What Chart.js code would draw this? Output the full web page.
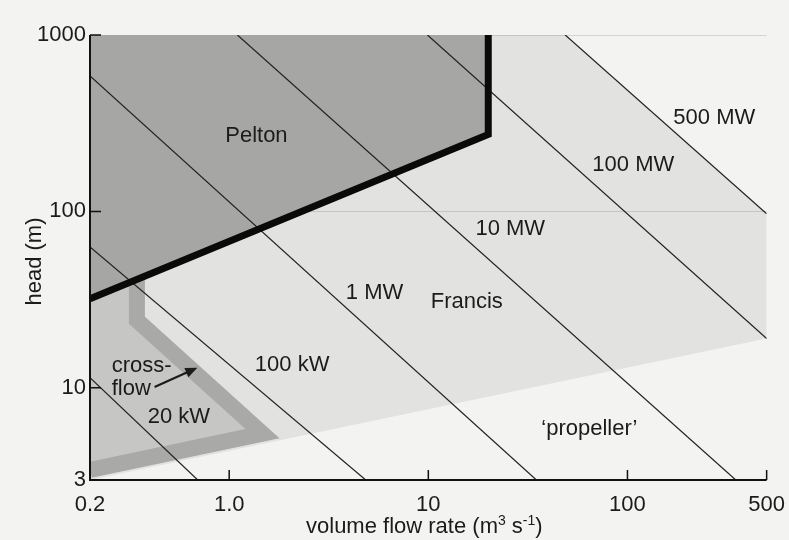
<!DOCTYPE html>
<html>
<head>
<meta charset="utf-8">
<title>Turbine ranges</title>
<script src="https://cdn.jsdelivr.net/npm/chart.js@4.4.1/dist/chart.umd.min.js"></script>
<style>
    html, body { margin: 0; padding: 0; background: #f3f3f1; }
    #wrap { position: relative; width: 789px; height: 540px; }
</style>
</head>
<body>
<div id="wrap"><canvas id="turbineChart"></canvas></div>
<script>
// axis ticks
const xTickValues = [0.2, 1, 10, 100, 500];
const xTickLabels = ['0.2', '1.0', '10', '100', '500'];
const yTickValues = [3, 10, 100, 1000];
const yTickLabels = ['3', '10', '100', '1000'];

// turbine regions: flow rate Q (m3/s) and head H (m) of the corners
const francisQ = [0.2, 500, 500, 48.7, 20, 20, 0.2];
const francisH = [3, 19, 97, 1000, 1000, 273, 32];
const peltonQ = [0.2, 20, 20, 0.2];
const peltonH = [32, 273, 1000, 1000];
const crossflowQ = [0.2, 0.344, 0.344, 1.47, 0.2];
const crossflowH = [32, 42, 24.2, 5.5, 3.42];
// outline band of the cross-flow area
const crossBandQ = [0.344, 0.344, 1.47, 0.2];
const crossBandH = [42, 24.2, 5.5, 3.42];
// Pelton / Francis boundary
const peltonEdgeQ = [0.2, 20, 20];
const peltonEdgeH = [32, 273, 1000];

// constant power lines (end points)
const powerNames = ['20 kW', '100 kW', '1 MW', '10 MW', '100 MW', '500 MW'];
const powerLineQ = [[0.2, 0.695], [0.2, 4.85], [0.2, 34.9], [1.1, 350], [9.9, 500], [48.7, 500]];
const powerLineH = [[11.4, 3], [62.8, 3], [586, 3], [1000, 3], [1000, 19], [1000, 97]];
// where each power label sits
const powerLabelQ = [0.559, 2.07, 5.37, 25.8, 107, 273];
const powerLabelH = [6.86, 13.5, 34.5, 79.4, 183, 337];

// region names
const regionNames = ['Pelton', 'Francis', '\u2018propeller\u2019'];
const regionLabelQ = [1.37, 15.6, 64.4];
const regionLabelH = [269, 30.8, 5.84];

const FONT = '"Liberation Sans", Arial, Helvetica, sans-serif';
const INK = '#1b1b1b';

function pts(qs, hs) {
    return qs.map((q, i) => ({ x: q, y: hs[i] }));
}

function area(qs, hs, color, order) {
    return {
        data: pts(qs, hs),
        showLine: true,
        fill: 'shape',
        backgroundColor: color,
        borderWidth: 0,
        pointRadius: 0,
        order: order,
        clip: 0
    };
}

function stroke(qs, hs, color, width, order) {
    return {
        data: pts(qs, hs),
        showLine: true,
        fill: false,
        borderColor: color,
        borderWidth: width,
        borderJoinStyle: 'miter',
        borderCapStyle: 'butt',
        pointRadius: 0,
        order: order,
        clip: 0
    };
}

const datasets = [
    stroke(peltonEdgeQ, peltonEdgeH, '#0a0a0a', 7, 0),
    ...powerLineQ.map((q, i) => stroke(q, powerLineH[i], '#222', 1.2, 1)),
    stroke(crossBandQ, crossBandH, '#a9a9a7', 16, 3),
    area(crossflowQ, crossflowH, '#c6c6c4', 4),
    area(peltonQ, peltonH, '#a6a6a4', 5),
    area(francisQ, francisH, 'rgba(0, 0, 0, 0.065)', 6)
];

// axes, inward ticks, labels and the arrow
const overlay = {
    id: 'overlay',
    afterDatasetsDraw(chart) {
        const { ctx, chartArea: a, scales: { x, y } } = chart;
        ctx.save();

        ctx.strokeStyle = '#111';
        ctx.lineWidth = 2;
        ctx.beginPath();
        ctx.moveTo(a.left, a.top);
        ctx.lineTo(a.left, a.bottom);
        ctx.lineTo(a.right, a.bottom);
        ctx.stroke();

        ctx.lineWidth = 1.5;
        ctx.beginPath();
        yTickValues.forEach(v => {
            if (v === y.min) return;
            const p = y.getPixelForValue(v);
            ctx.moveTo(a.left, p);
            ctx.lineTo(a.left + 11, p);
        });
        xTickValues.forEach(v => {
            if (v === x.min) return;
            const p = x.getPixelForValue(v);
            ctx.moveTo(p, a.bottom);
            ctx.lineTo(p, a.bottom - 10);
        });
        ctx.stroke();

        ctx.fillStyle = INK;
        ctx.font = '22px ' + FONT;
        ctx.textAlign = 'center';
        ctx.textBaseline = 'middle';
        regionNames.forEach((t, i) => {
            ctx.fillText(t, x.getPixelForValue(regionLabelQ[i]), y.getPixelForValue(regionLabelH[i]));
        });
        powerNames.forEach((t, i) => {
            ctx.fillText(t, x.getPixelForValue(powerLabelQ[i]), y.getPixelForValue(powerLabelH[i]));
        });

        // cross-flow label and its arrow
        ctx.textAlign = 'left';
        ctx.textBaseline = 'alphabetic';
        const cx = x.getPixelForValue(0.257);
        const cy = y.getPixelForValue(12.3);
        ctx.fillText('cross-', cx, cy);
        ctx.fillText('flow', cx, cy + 23);

        const x0 = x.getPixelForValue(0.422), y0 = y.getPixelForValue(10.1);
        const x1 = x.getPixelForValue(0.692), y1 = y.getPixelForValue(13.0);
        const ang = Math.atan2(y1 - y0, x1 - x0);
        ctx.strokeStyle = INK;
        ctx.lineWidth = 2;
        ctx.beginPath();
        ctx.moveTo(x0, y0);
        ctx.lineTo(x1 - 8 * Math.cos(ang), y1 - 8 * Math.sin(ang));
        ctx.stroke();
        ctx.beginPath();
        ctx.moveTo(x1, y1);
        ctx.lineTo(x1 - 12 * Math.cos(ang) + 5 * Math.sin(ang), y1 - 12 * Math.sin(ang) - 5 * Math.cos(ang));
        ctx.lineTo(x1 - 12 * Math.cos(ang) - 5 * Math.sin(ang), y1 - 12 * Math.sin(ang) + 5 * Math.cos(ang));
        ctx.closePath();
        ctx.fill();

        // axis titles
        ctx.save();
        ctx.translate(35, (a.top + a.bottom) / 2 + 4);
        ctx.rotate(-Math.PI / 2);
        ctx.textAlign = 'center';
        ctx.textBaseline = 'middle';
        ctx.fillText('head (m)', 0, 0);
        ctx.restore();

        const parts = [
            ['volume flow rate (m', 22, 0],
            ['3', 14, -8],
            [' s', 22, 0],
            ['-1', 14, -8],
            [')', 22, 0]
        ];
        let total = 0;
        parts.forEach(p => { ctx.font = p[1] + 'px ' + FONT; total += ctx.measureText(p[0]).width; });
        let tx = (a.left + a.right) / 2 - 4 - total / 2;
        const ty = 533;
        ctx.textAlign = 'left';
        ctx.textBaseline = 'alphabetic';
        parts.forEach(p => {
            ctx.font = p[1] + 'px ' + FONT;
            ctx.fillText(p[0], tx, ty + p[2]);
            tx += ctx.measureText(p[0]).width;
        });

        ctx.restore();
    }
};

const tickFont = { family: FONT, size: 22 };

new Chart(document.getElementById('turbineChart'), {
    type: 'scatter',
    data: { datasets: datasets },
    options: {
        responsive: true,
        maintainAspectRatio: false,
        animation: false,
        layout: { padding: { top: 35, right: 21, left: 0, bottom: 0 } },
        plugins: {
            legend: { display: false },
            tooltip: { enabled: false }
        },
        elements: { line: { tension: 0 }, point: { radius: 0 } },
        scales: {
            x: {
                type: 'logarithmic',
                min: 0.2,
                max: 500,
                afterBuildTicks: s => { s.ticks = xTickValues.map(v => ({ value: v })); },
                afterFit: s => { s.height = 60; },
                grid: { display: false },
                border: { display: false },
                ticks: {
                    autoSkip: false,
                    maxRotation: 0,
                    padding: 4,
                    color: INK,
                    font: tickFont,
                    callback: (v, i) => xTickLabels[i]
                }
            },
            y: {
                type: 'logarithmic',
                min: 3,
                max: 1000,
                afterBuildTicks: s => { s.ticks = yTickValues.map(v => ({ value: v })); },
                afterFit: s => { s.width = 90; },
                grid: {
                    drawTicks: false,
                    lineWidth: 1,
                    color: c => (c.tick && (c.tick.value === 100 || c.tick.value === 1000)) ? '#d4d4d2' : 'rgba(0,0,0,0)'
                },
                border: { display: false },
                ticks: {
                    autoSkip: false,
                    padding: 4,
                    color: INK,
                    font: tickFont,
                    callback: (v, i) => yTickLabels[i]
                }
            }
        }
    },
    plugins: [overlay]
});
</script>
</body>
</html>
